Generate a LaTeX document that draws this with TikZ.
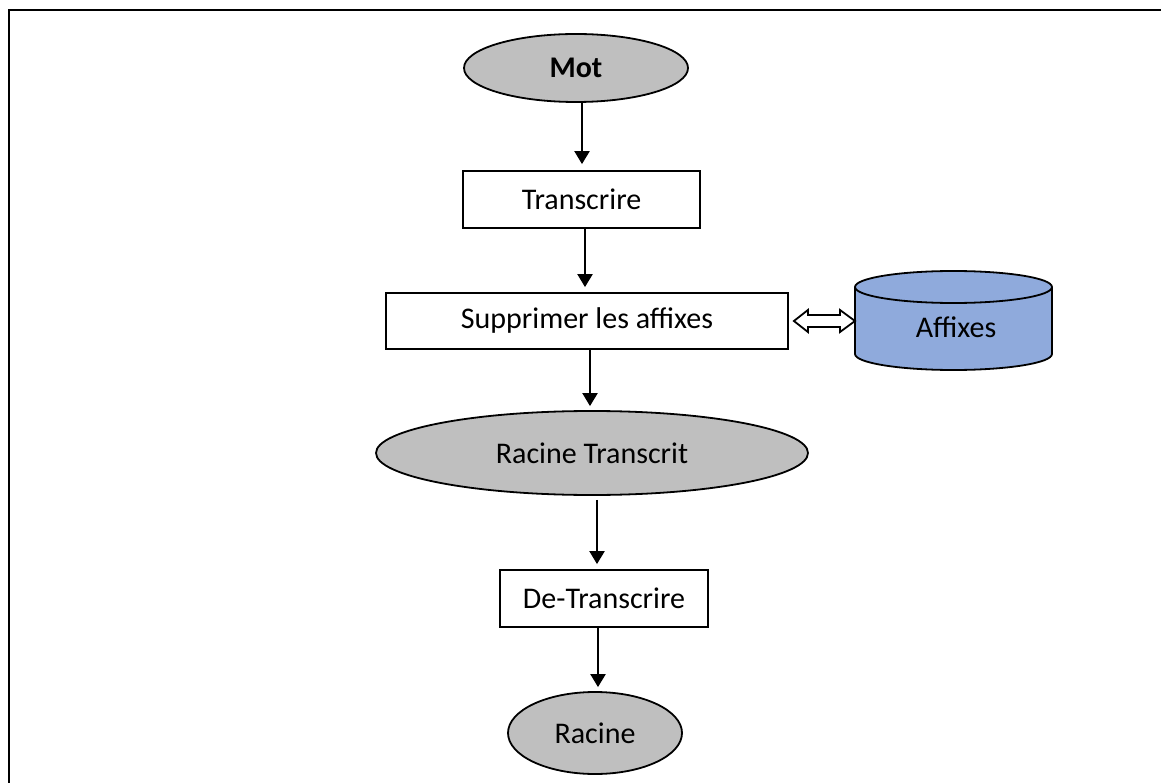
\documentclass[tikz,border=0pt]{standalone}
\usepackage{fontspec}
\setmainfont{Carlito}
\usetikzlibrary{arrows.meta,shapes.geometric,calc}
\definecolor{termgrey}{RGB}{191,191,191}
\definecolor{dbblue}{RGB}{143,170,220}
\tikzset{
  lbl/.style={font=\fontsize{30pt}{36pt}\selectfont},
  term/.style={ellipse,draw,line width=1.8pt,fill=termgrey,inner sep=0pt,lbl},
  stepbox/.style={rectangle,draw,line width=1.8pt,fill=white,inner sep=0pt,lbl},
  flow/.style={line width=2.2pt,-{Triangle[length=13pt,width=15pt]}}
}
\begin{document}
\begin{tikzpicture}[x=1pt,y=-1pt]
\useasboundingbox (0,0) rectangle (1161,783);
\begin{scope}
\clip (0,0) rectangle (1161,783);
\draw[line width=2.2pt] (9,10) rectangle (1220,840);
\end{scope}

% process nodes
\node[term,minimum width=224pt,minimum height=68pt] (mot) at (576,68) {\textbf{Mot}};
\node[stepbox,minimum width=237pt,minimum height=57pt] (tr) at (581.5,199.5) {Transcrire};
\node[stepbox,minimum width=402pt,minimum height=56pt] (sup) at (587,321) {Supprimer les affixes};
\node[term,minimum width=432pt,minimum height=84pt] (rt) at (592,453) {Racine Transcrit};
\node[stepbox,minimum width=208pt,minimum height=57pt] (de) at (604,598.5) {De-Transcrire};
\node[term,minimum width=174pt,minimum height=82pt] (rac) at (595,733) {Racine};

% affix store (cylinder)
\fill[dbblue] (855,287) -- (855,354) arc (180:360:98.5pt and 16pt) -- (1052,287) arc (0:180:98.5pt and 16pt) -- cycle;
\draw[line width=1.8pt] (855,287) -- (855,354) arc (180:360:98.5pt and 16pt) -- (1052,287) arc (0:180:98.5pt and 16pt) -- cycle;
\draw[line width=1.8pt] (855,287) arc (180:360:98.5pt and 16pt);
\node[lbl,inner sep=0pt] (aff) at (956,327) {Affixes};
\coordinate (affw) at (855,321);

% flow arrows
\draw[flow] ([xshift=6pt]mot.south) -- ([xshift=6pt,yshift=6pt]mot.south |- tr.north);
\draw[flow] ([xshift=3.5pt]tr.south) -- ([xshift=3.5pt,yshift=5pt]tr.south |- sup.north);
\draw[flow] ([xshift=3pt]sup.south) -- ([xshift=3pt,yshift=4pt]sup.south |- rt.north);
\draw[flow] ([xshift=5pt,yshift=-4pt]rt.south) -- ([xshift=5pt,yshift=5pt]rt.south |- de.north);
\draw[flow] ([xshift=-6pt]de.south) -- ([xshift=-6pt,yshift=4pt]de.south |- rac.north);

% hollow double arrow between the step and the store
\coordinate (dl) at ($(sup.east)+(5,0)$);
\draw[line width=1.8pt,fill=white,line join=miter]
  (dl) -- ++(14,-11) -- ++(0,5) -- ($(affw)+(-15,-6)$) -- ++(0,-5) -- (affw)
  -- ++(-15,11) -- ++(0,-5) -- ($(dl)+(14,6)$) -- ++(0,5) -- cycle;
\end{tikzpicture}
\end{document}
